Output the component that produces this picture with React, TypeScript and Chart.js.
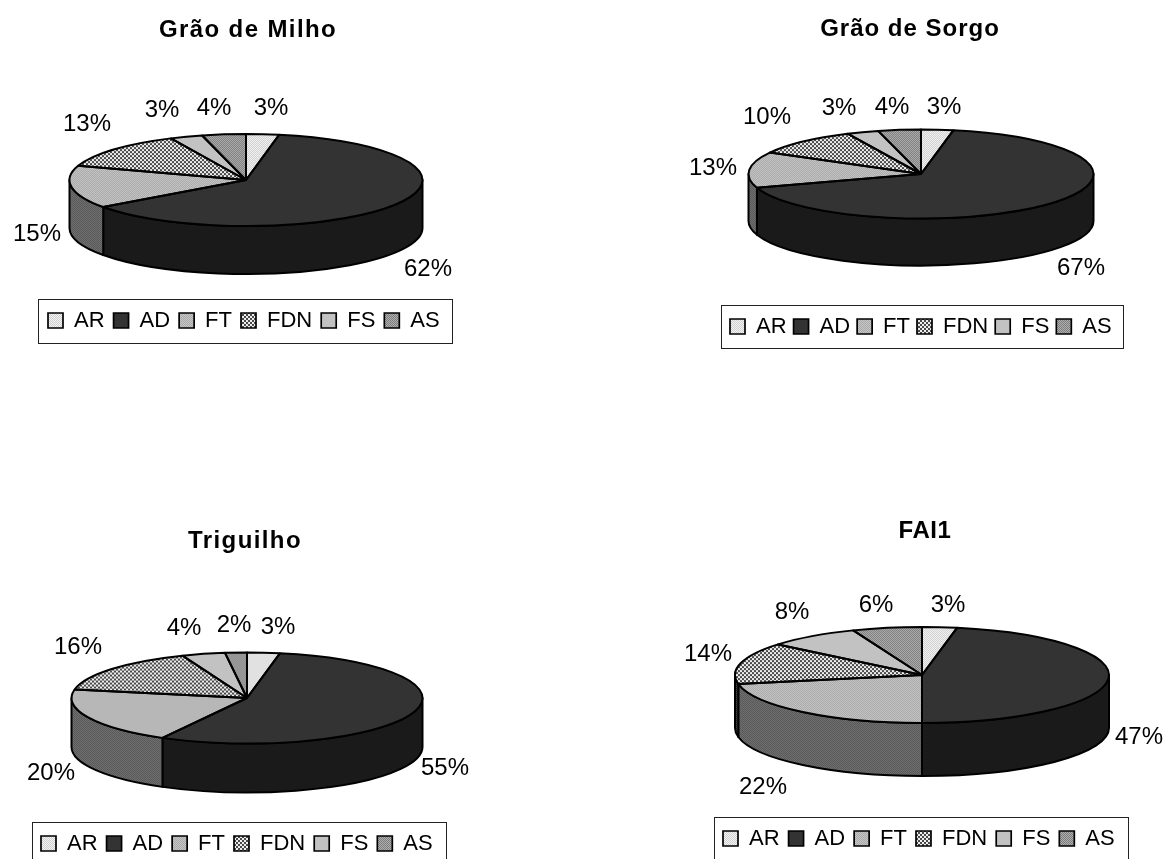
import React, { useEffect, useRef } from "react";
import { Chart, registerables } from "chart.js";

Chart.register(...registerables);

// Composition of each feed, in percent, clockwise from twelve o'clock.
const categories = ["AR", "AD", "FT", "FDN", "FS", "AS"];
const graoDeMilho = [3, 62, 15, 13, 3, 4];
const graoDeSorgo = [3, 67, 13, 10, 3, 4];
const triguilho = [3, 55, 20, 16, 4, 2];
const fai1 = [3, 47, 22, 14, 8, 6];

const FONT = "'Liberation Sans', Arial, sans-serif";

type Pt = [number, number];
interface Panel {
  title: string;
  values: number[];
  origin: Pt;
  size: Pt;
  titleAt: Pt;
  titleSpacing: number;
  legendX: number;
  legendGap: number;
  disc: { cx: number; cy: number; rx: number; ry: number; depth: number };
  frame: { left: number; top: number; right: number; bottom: number };
  labels: Pt[];
}

// Page coordinates of everything placed around each pie.
const panels: Panel[] = [
  {
    title: "Grão de Milho",
    values: graoDeMilho,
    origin: [0, 0],
    size: [580, 430],
    titleAt: [248, 30],
    titleSpacing: 1.4,
    legendX: 48,
    legendGap: 9,
    disc: { cx: 246, cy: 180, rx: 176.5, ry: 46, depth: 48 },
    frame: { left: 38.5, top: 299.5, right: 452.5, bottom: 343.5 },
    labels: [[271, 108], [428, 269], [37, 234], [87, 124], [162, 110], [214, 108]],
  },
  {
    title: "Grão de Sorgo",
    values: graoDeSorgo,
    origin: [580, 0],
    size: [587, 430],
    titleAt: [910, 29],
    titleSpacing: 1.0,
    legendX: 730,
    legendGap: 7,
    disc: { cx: 921, cy: 174, rx: 172.5, ry: 44.5, depth: 47 },
    frame: { left: 721.5, top: 305.5, right: 1123.5, bottom: 348.5 },
    labels: [[944, 107], [1081, 268], [713, 168], [767, 117], [839, 108], [892, 107]],
  },
  {
    title: "Triguilho",
    values: triguilho,
    origin: [0, 430],
    size: [580, 429],
    titleAt: [245, 541],
    titleSpacing: 1.4,
    legendX: 41,
    legendGap: 9,
    disc: { cx: 247, cy: 698, rx: 175.5, ry: 45.5, depth: 49 },
    frame: { left: 32.5, top: 822.5, right: 446.5, bottom: 880 },
    labels: [[278, 627], [445, 768], [51, 773], [78, 647], [184, 628], [234, 625]],
  },
  {
    title: "FAI1",
    values: fai1,
    origin: [580, 430],
    size: [587, 429],
    titleAt: [925, 531],
    titleSpacing: 0.6,
    legendX: 723,
    legendGap: 9,
    disc: { cx: 922, cy: 675, rx: 187, ry: 48, depth: 53 },
    frame: { left: 714.5, top: 817.5, right: 1128.5, bottom: 880 },
    labels: [[948, 605], [1139, 737], [763, 787], [708, 654], [792, 612], [876, 605]],
  },
];

// Fill of the top face of each slice: two tones and the checker cell size.
const topTones: [string, string, number][] = [
  ["#f4f4f4", "#cfcfcf", 1],
  ["#333333", "#333333", 1],
  ["#c6c6c6", "#a9a9a9", 1],
  ["#eeeeee", "#4a4a4a", 2],
  ["#c2c2c2", "#c2c2c2", 1],
  ["#b0b0b0", "#7c7c7c", 1],
];
// Same slices seen on the darker rim.
const rimTones: [string, string, number][] = [
  ["#9a9a9a", "#8a8a8a", 1],
  ["#1a1a1a", "#1a1a1a", 1],
  ["#6e6e6e", "#5a5a5a", 1],
  ["#444444", "#222222", 1],
  ["#808080", "#808080", 1],
  ["#666666", "#555555", 1],
];

function checker(tones: [string, string, number], yScale = 1): CanvasPattern {
  const [a, b, cell] = tones;
  const tile = document.createElement("canvas");
  tile.width = tile.height = cell * 2;
  const g = tile.getContext("2d")!;
  g.fillStyle = a;
  g.fillRect(0, 0, cell * 2, cell * 2);
  g.fillStyle = b;
  g.fillRect(0, 0, cell, cell);
  g.fillRect(cell, cell, cell, cell);
  const pattern = g.createPattern(tile, "repeat")!;
  if (yScale !== 1) pattern.setTransform(new DOMMatrix().scale(1, yScale));
  return pattern;
}

const OUTLINE = "#000000";
const OUTLINE_WIDTH = 2;

function discPlugin(panel: Panel) {
  const [ox, oy] = panel.origin;
  const { rx, ry, depth } = panel.disc;
  const cx = panel.disc.cx - ox;
  const cy = panel.disc.cy - oy;
  const squash = ry / rx;
  const rimFills = rimTones.map((t) => checker(t));

  return {
    id: "disc",
    afterLayout(chart: any) {
      // Pie, title and legend sit at fixed places in the panel.
      chart.chartArea = {
        left: cx - rx,
        right: cx + rx,
        top: cy - rx,
        bottom: cy + rx,
        width: rx * 2,
        height: rx * 2,
      };
      const t = chart.titleBlock;
      const tx = panel.titleAt[0] - ox;
      const th = t.bottom - t.top;
      t.left = tx - 150;
      t.right = tx + 150;
      t.top = panel.titleAt[1] - oy - th / 2;
      t.bottom = t.top + th;
      if (!t.__spaced) {
        const draw = t.draw.bind(t);
        t.draw = () => {
          const c = chart.ctx;
          c.save();
          c.letterSpacing = `${panel.titleSpacing}px`;
          draw();
          c.restore();
        };
        t.__spaced = true;
      }
      const l = chart.legend;
      const gap = chart.options.plugins.legend.labels.padding;
      l.left = panel.legendX - ox - gap;
      l.right = panel.frame.right - ox + 40;
      l.width = l.right - l.left;
      l.top = panel.frame.top - oy + 22 - gap - 12;
    },
    beforeDatasetsDraw(chart: any) {
      const c = chart.ctx;
      const arcs = chart.getDatasetMeta(0).data;
      c.save();
      c.lineWidth = OUTLINE_WIDTH;
      c.strokeStyle = OUTLINE;
      c.lineJoin = "round";
      arcs.forEach((arc: any, i: number) => {
        const from = Math.max(arc.startAngle, 0);
        const to = Math.min(arc.endAngle, Math.PI);
        if (to <= from) return;
        c.beginPath();
        c.ellipse(cx, cy, rx, ry, 0, from, to);
        c.ellipse(cx, cy + depth, rx, ry, 0, to, from, true);
        c.closePath();
        c.fillStyle = rimFills[i];
        c.fill();
        c.stroke();
      });
      c.restore();
      c.save();
      c.translate(cx, cy);
      c.scale(1, squash);
      c.translate(-cx, -cy);
    },
    afterDatasetsDraw(chart: any) {
      const c = chart.ctx;
      c.restore();
      const arcs = chart.getDatasetMeta(0).data;
      c.save();
      c.lineWidth = OUTLINE_WIDTH;
      c.strokeStyle = OUTLINE;
      c.lineJoin = "round";
      arcs.forEach((arc: any) => {
        c.beginPath();
        c.moveTo(cx, cy);
        c.ellipse(cx, cy, rx, ry, 0, arc.startAngle, arc.endAngle);
        c.closePath();
        c.stroke();
      });
      c.restore();
    },
    afterDraw(chart: any) {
      const c = chart.ctx;
      c.save();
      // Percent labels around the disc.
      c.fillStyle = "#000000";
      c.font = `24px ${FONT}`;
      c.textAlign = "center";
      c.textBaseline = "middle";
      panel.values.forEach((v, i) => {
        const [x, y] = panel.labels[i];
        c.fillText(`${v}%`, x - ox, y - oy);
      });
      // Legend frame.
      const f = panel.frame;
      c.strokeStyle = "#222222";
      c.lineWidth = 1;
      c.strokeRect(f.left - ox, f.top - oy, f.right - f.left, f.bottom - f.top);
      c.restore();
    },
  };
}

function PieCanvas({ panel }: { panel: Panel }) {
  const ref = useRef<HTMLCanvasElement>(null);

  useEffect(() => {
    const canvas = ref.current!;
    const squash = panel.disc.ry / panel.disc.rx;
    const chart = new Chart(canvas, {
      type: "pie",
      data: {
        labels: categories,
        datasets: [
          {
            data: panel.values,
            backgroundColor: topTones.map((t) => checker(t, 1 / squash)),
            borderWidth: 0,
            clip: false,
          },
        ],
      },
      options: {
        responsive: false,
        animation: false,
        events: [],
        plugins: {
          tooltip: { enabled: false },
          title: {
            display: true,
            text: panel.title,
            color: "#000000",
            font: { family: FONT, size: 24, weight: "bold" },
            padding: 0,
          },
          legend: {
            display: true,
            position: "bottom",
            align: "start",
            labels: {
              boxWidth: 15,
              boxHeight: 15,
              padding: panel.legendGap,
              color: "#000000",
              font: { family: FONT, size: 22 },
              generateLabels: () =>
                categories.map((text, i) => ({
                  text,
                  index: i,
                  fillStyle: checker(topTones[i]),
                  strokeStyle: "#000000",
                  lineWidth: 1.7,
                  fontColor: "#000000",
                  hidden: false,
                })),
            },
          },
        },
      },
      plugins: [discPlugin(panel)],
    } as any);
    return () => chart.destroy();
  }, [panel]);

  return (
    <canvas
      ref={ref}
      width={panel.size[0]}
      height={panel.size[1]}
      style={{
        position: "absolute",
        left: panel.origin[0],
        top: panel.origin[1],
        width: panel.size[0],
        height: panel.size[1],
      }}
    />
  );
}

export default function App() {
  return (
    <div
      style={{
        position: "fixed",
        left: 0,
        top: 0,
        width: 1167,
        height: 859,
        overflow: "hidden",
        background: "#ffffff",
      }}
    >
      {panels.map((p) => (
        <PieCanvas key={p.title} panel={p} />
      ))}
    </div>
  );
}
